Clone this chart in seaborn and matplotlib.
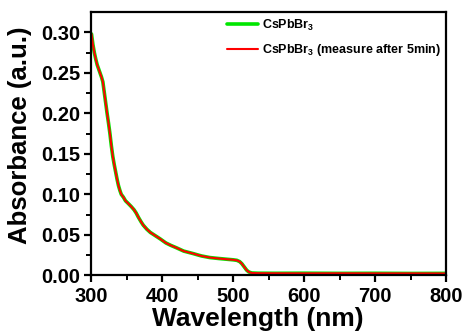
import matplotlib
matplotlib.use("Agg")
from matplotlib import pyplot as plt
from matplotlib.ticker import MultipleLocator, FormatStrFormatter
import seaborn as sns
import pandas as pd

# wavelength (nm) and absorbance
wavelength = [300, 302, 304, 306, 308, 310, 312, 314, 316, 318, 320, 322, 324, 326,
              328, 330, 332, 334, 336, 338, 340, 342, 345, 348, 352, 356, 360, 363,
              366, 370, 373, 378, 383, 390, 397, 405, 412, 420, 430, 443, 455, 467,
              480, 490, 500, 505, 509, 512, 515, 519, 522, 526, 535, 560, 600, 650,
              700, 750, 800]
abs_fresh = [0.298, 0.285, 0.275, 0.267, 0.260, 0.255, 0.250, 0.245, 0.239, 0.226,
             0.213, 0.200, 0.188, 0.175, 0.160, 0.147, 0.137, 0.128, 0.119, 0.111,
             0.105, 0.100, 0.0965, 0.092, 0.0886, 0.085, 0.081, 0.077, 0.072, 0.066,
             0.062, 0.057, 0.053, 0.049, 0.045, 0.040, 0.037, 0.034, 0.030, 0.027,
             0.024, 0.022, 0.0208, 0.020, 0.0192, 0.0186, 0.017, 0.0145, 0.011,
             0.0063, 0.0042, 0.0030, 0.0027, 0.0026, 0.0027, 0.0025, 0.0026, 0.0024,
             0.0025]
abs_5min = [0.298, 0.285, 0.275, 0.267, 0.260, 0.255, 0.250, 0.245, 0.239, 0.226,
            0.213, 0.200, 0.188, 0.175, 0.160, 0.147, 0.137, 0.128, 0.119, 0.111,
            0.105, 0.100, 0.0965, 0.092, 0.0886, 0.085, 0.081, 0.077, 0.072, 0.066,
            0.062, 0.057, 0.053, 0.049, 0.045, 0.040, 0.037, 0.034, 0.030, 0.027,
            0.024, 0.022, 0.0208, 0.020, 0.0192, 0.0186, 0.017, 0.0145, 0.011,
            0.0063, 0.0042, 0.0030, 0.0027, 0.0026, 0.0025, 0.0026, 0.0025, 0.0025,
            0.0024]
labels = ["CsPbBr$_3$", "CsPbBr$_3$ (measure after 5min)"]

sns.set_style("ticks")
plt.rcParams['font.family'] = ['Liberation Sans', 'DejaVu Sans']
plt.rcParams['font.weight'] = 'bold'
plt.rcParams['text.color'] = 'black'
plt.rcParams['axes.labelcolor'] = 'black'
plt.rcParams['xtick.color'] = 'black'
plt.rcParams['ytick.color'] = 'black'
plt.rcParams['mathtext.fontset'] = 'custom'
plt.rcParams['mathtext.rm'] = 'Liberation Sans:bold'
plt.rcParams['mathtext.it'] = 'Liberation Sans:bold'
plt.rcParams['mathtext.bf'] = 'Liberation Sans:bold'

df = pd.DataFrame({"wl": wavelength, "fresh": abs_fresh, "after": abs_5min})

fig = plt.figure(figsize=(4.68, 3.33), dpi=100)
ax = fig.add_axes([0.1955, 0.173, 0.7575, 0.7895])

sns.lineplot(data=df, x="wl", y="fresh", color="#00e600", lw=2.6, label=labels[0], ax=ax)
sns.lineplot(data=df, x="wl", y="after", color="#ff0000", lw=1.5, label=labels[1], ax=ax)

ax.set_xlim(300, 800)
ax.set_ylim(0, 0.3245)
ax.xaxis.set_major_locator(MultipleLocator(100))
ax.xaxis.set_minor_locator(MultipleLocator(50))
ax.yaxis.set_major_locator(MultipleLocator(0.05))
ax.yaxis.set_minor_locator(MultipleLocator(0.025))
ax.yaxis.set_major_formatter(FormatStrFormatter('%.2f'))

for s in ax.spines.values():
    s.set_linewidth(1.6)
    s.set_color("black")
ax.tick_params(which="major", direction="out", length=5, width=1.6, labelsize=14.5,
               top=False, right=False, pad=3)
ax.tick_params(which="minor", direction="out", length=3.5, width=1.4,
               top=False, right=False)
for t in ax.get_xticklabels() + ax.get_yticklabels():
    t.set_fontweight("bold")

ax.set_xlabel("Wavelength (nm)", fontsize=19, fontweight="bold")
ax.set_ylabel("Absorbance (a.u.)", fontsize=18.5, fontweight="bold")
ax.xaxis.set_label_coords(0.47, -0.12)
ax.yaxis.set_label_coords(-0.168, 0.532)

leg = ax.legend(loc="upper right", frameon=False, fontsize=9, handlelength=2.5,
                handletextpad=0.3, labelspacing=0.75, borderaxespad=0.0,
                bbox_to_anchor=(1.0, 1.0))
for t in leg.get_texts():
    t.set_fontweight("bold")

fig.savefig("out.png", dpi=100)
